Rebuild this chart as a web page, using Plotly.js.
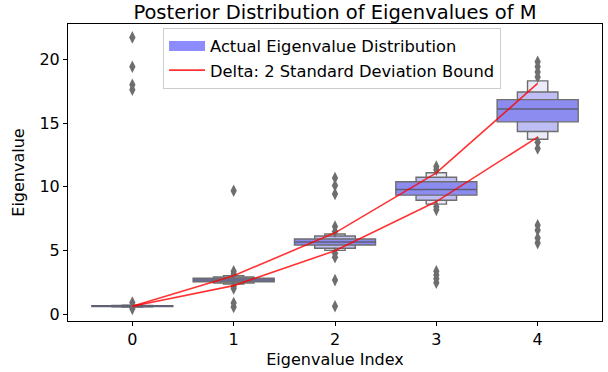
<!DOCTYPE html>
<html>
<head>
<meta charset="utf-8">
<script src="https://cdn.plot.ly/plotly-3.0.1.min.js"></script>
<style>html,body{margin:0;padding:0;background:#fff;}#chart{width:608px;height:372px;}</style>
</head>
<body>
<div id="chart"></div>
<script>
// ---- data ----
const idx = [0, 1, 2, 3, 4];
const tickLabels = ['0', '1', '2', '3', '4'];
const medians = [0.67, 2.71, 5.68, 9.80, 16.10];
// letter-value boxes (innermost = widest)
const level1Lo = [0.64, 2.57, 5.45, 9.35, 15.09];
const level1Hi = [0.70, 2.85, 5.92, 10.40, 16.83];
const level2Lo = [0.62, 2.47, 5.19, 8.95, 14.33];
const level2Hi = [0.72, 2.95, 6.15, 10.75, 17.43];
const level3Lo = [0.60, 2.40, 5.03, 8.65, 13.73];
const level3Hi = [0.74, 3.05, 6.31, 11.10, 18.30];
// outliers per eigenvalue index
const outliers0 = [21.7, 19.4, 18.0, 17.6, 0.95, 0.45];
const outliers1 = [9.7, 3.4, 3.2, 2.2, 2.05, 0.9, 0.6];
const outliers2 = [10.7, 10.1, 9.45, 6.9, 6.5, 4.8, 4.5, 2.7, 0.65];
const outliers3 = [11.6, 11.35, 8.45, 8.2, 3.4, 3.1, 2.8, 2.5];
const outliers4 = [19.8, 19.4, 19.0, 18.6, 13.5, 13.0, 7.0, 6.6, 6.0, 5.6];
// 2 standard deviation bounds
const upperBound = [0.65, 3.05, 6.40, 11.10, 18.10];
const lowerBound = [0.65, 2.27, 5.00, 8.85, 13.90];

// ---- styles ----
const edge = '#6e6e6e';
const fonts = 'DejaVu Sans, Liberation Sans, sans-serif';
const boxW = [0.8, 0.4, 0.2];

function boxTrace(lo, hi, w, color, name) {
  return {
    type: 'bar', x: idx, base: lo, y: hi.map((h, i) => h - lo[i]),
    width: idx.map(() => w),
    marker: {color: color, line: {color: edge, width: 1.4}},
    name: name, showlegend: false, hoverinfo: 'skip'
  };
}

const allOut = [outliers0, outliers1, outliers2, outliers3, outliers4];
const outX = [], outY = [];
allOut.forEach((arr, i) => arr.forEach(v => { outX.push(idx[i]); outY.push(v); }));

const medX = [], medY = [];
idx.forEach((xi, i) => { medX.push(xi - boxW[0] / 2, xi + boxW[0] / 2, null); medY.push(medians[i], medians[i], null); });

const traces = [
  boxTrace(level3Lo, level3Hi, boxW[2], '#eaeaf9', 'l3'),
  boxTrace(level2Lo, level2Hi, boxW[1], '#bebef5', 'l2'),
  boxTrace(level1Lo, level1Hi, boxW[0], '#8c8cf0', 'l1'),
  {type: 'scatter', mode: 'lines', x: medX, y: medY, line: {color: '#5e5e78', width: 1.4},
   showlegend: false, hoverinfo: 'skip'},
  {type: 'scatter', mode: 'markers', x: outX, y: outY,
   marker: {symbol: 'diamond-tall', size: 9, color: edge, line: {width: 0}},
   showlegend: false, hoverinfo: 'skip'},
  // legend patch for the distribution
  {type: 'scatter', mode: 'lines', x: [null], y: [null], name: 'Actual Eigenvalue Distribution',
   line: {color: '#8c8cff', width: 12}, showlegend: true, hoverinfo: 'skip'},
  {type: 'scatter', mode: 'lines', x: idx, y: upperBound, name: 'Delta: 2 Standard Deviation Bound',
   line: {color: 'rgba(255,0,0,0.8)', width: 1.6}, legendgroup: 'd', showlegend: true},
  {type: 'scatter', mode: 'lines', x: idx, y: lowerBound, name: 'Delta: 2 Standard Deviation Bound',
   line: {color: 'rgba(255,0,0,0.8)', width: 1.6}, legendgroup: 'd', showlegend: false}
];

const layout = {
  width: 608, height: 372,
  margin: {l: 68, r: 6, t: 24, b: 51},
  paper_bgcolor: '#fff', plot_bgcolor: '#fff',
  barmode: 'overlay',
  font: {family: fonts, size: 16, color: '#000'},
  title: {text: 'Posterior Distribution of Eigenvalues of M', font: {family: fonts, size: 19.5, color: '#000'},
          x: 0.551, xanchor: 'center', y: 0.968, yanchor: 'middle'},
  xaxis: {range: [-0.635, 4.635], tickmode: 'array', tickvals: idx, ticktext: tickLabels,
          showline: true, mirror: true, linecolor: '#000', linewidth: 1, ticks: 'outside', ticklen: 4,
          tickcolor: '#000', showgrid: false, zeroline: false, tickfont: {size: 16},
          title: {text: 'Eigenvalue Index', font: {size: 16}, standoff: 5}},
  yaxis: {range: [-0.5, 22.75], tickvals: [0, 5, 10, 15, 20],
          showline: true, mirror: true, linecolor: '#000', linewidth: 1, ticks: 'outside', ticklen: 4,
          tickcolor: '#000', showgrid: false, zeroline: false, tickfont: {size: 16},
          title: {text: 'Eigenvalue', font: {size: 16}, standoff: 10}},
  legend: {x: 0.178, y: 0.987, xanchor: 'left', yanchor: 'top', bgcolor: 'rgba(255,255,255,0.85)',
           bordercolor: '#cccccc', borderwidth: 1, font: {size: 16.3}, traceorder: 'normal',
           itemwidth: 36},
  showlegend: true
};

Plotly.newPlot('chart', traces, layout, {staticPlot: true, displayModeBar: false});
</script>
</body>
</html>
